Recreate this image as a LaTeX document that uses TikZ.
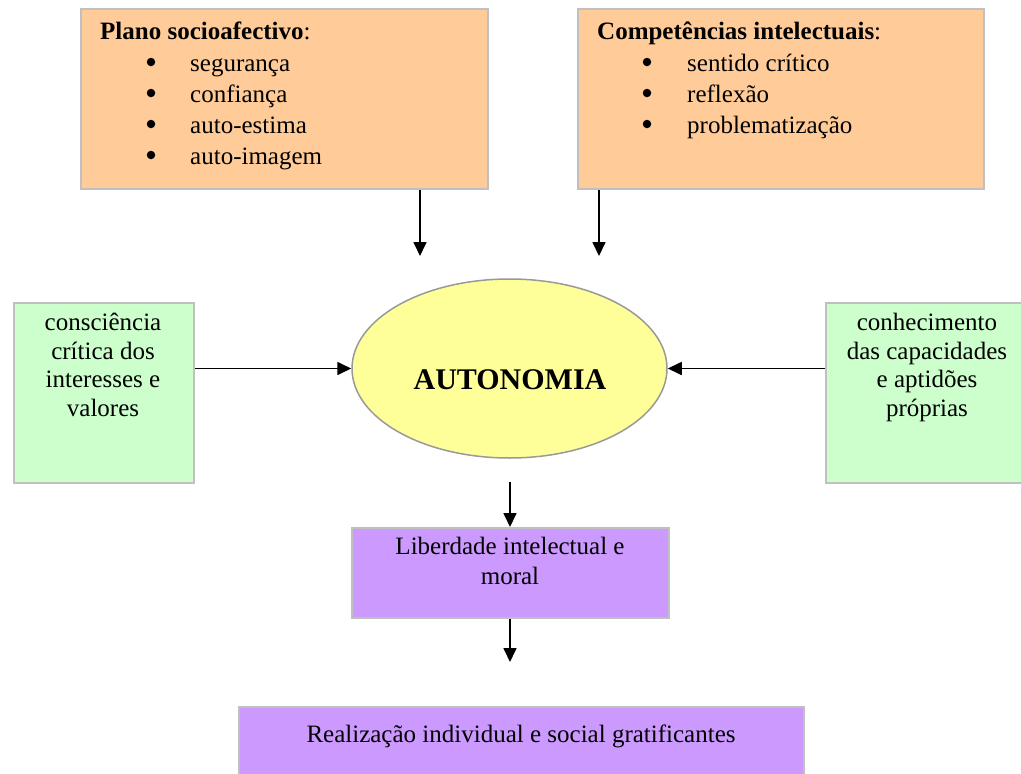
\documentclass[tikz,border=0pt]{standalone}
\usepackage{fontspec}
\setmainfont{Liberation Serif}
\usetikzlibrary{arrows.meta,shapes.geometric}
\definecolor{orangefill}{HTML}{FFCC99}
\definecolor{greenfill}{HTML}{CCFFCC}
\definecolor{yellowfill}{HTML}{FFFF99}
\definecolor{purplefill}{HTML}{CC99FF}
\definecolor{boxborder}{HTML}{C0C0C0}
\definecolor{ellborder}{HTML}{999999}
\tikzset{
  panel/.style={draw=boxborder, line width=1.8pt, rectangle, inner sep=0pt, anchor=north west},
  txt/.style={inner sep=0pt, font=\fontsize{25}{31}\selectfont},
  btxt/.style={inner sep=0pt, font=\fontsize{25}{31}\selectfont\bfseries},
  ctxt/.style={inner sep=0pt, font=\fontsize{25}{28.5}\selectfont, align=center},
  dot/.style={circle, fill=black, inner sep=0pt, minimum size=8.5pt},
  arr/.style={line width=1.7pt, -{Triangle[length=14pt,width=13pt]}},
}
\begin{document}
\begin{tikzpicture}[x=1pt,y=-1pt]
\clip (0,0) rectangle (1021,774);
\useasboundingbox (0,0) rectangle (1021,774);
\fill[white] (0,0) rectangle (1021,774);

% top boxes
\node[panel, fill=orangefill, minimum width=407pt, minimum height=180pt] (tl) at (80,8) {};
\node[panel, fill=orangefill, minimum width=406pt, minimum height=180pt] (tr) at (577,8) {};

\node[btxt, anchor=base west] (tlt) at (100,39) {Plano socioafectivo\textmd{:}};
\node[dot] (tlb1) at (151,62) {};
\node[dot] (tlb2) at (151,93) {};
\node[dot] (tlb3) at (151,124) {};
\node[dot] (tlb4) at (151,155) {};
\node[txt, anchor=base west] (tl1) at (190,71) {segurança};
\node[txt, anchor=base west] (tl2) at (190,102) {confiança};
\node[txt, anchor=base west] (tl3) at (190,133) {auto-estima};
\node[txt, anchor=base west] (tl4) at (190,164) {auto-imagem};

\node[btxt, anchor=base west] (trt) at (597,39) {Competências intelectuais\textmd{:}};
\node[dot] (trb1) at (647,62) {};
\node[dot] (trb2) at (647,93) {};
\node[dot] (trb3) at (647,124) {};
\node[txt, anchor=base west] (tr1) at (687,71) {sentido crítico};
\node[txt, anchor=base west] (tr2) at (687,102) {reflexão};
\node[txt, anchor=base west] (tr3) at (687,133) {problematização};

% side boxes
\node[panel, fill=greenfill, minimum width=180pt, minimum height=180pt] (lg) at (13,302) {};
\node[panel, fill=greenfill, minimum width=200pt, minimum height=180pt] (rg) at (825,302) {};
\node[ctxt, anchor=north] (lgt) at (103,313) {consciência\\crítica dos\\interesses e\\valores};
\node[ctxt, anchor=north] (rgt) at (927,313) {conhecimento\\das capacidades\\e aptidões\\próprias};

% ellipse
\node[ellipse, draw=ellborder, line width=1.5pt, fill=yellowfill, minimum width=315pt, minimum height=179pt, inner sep=0pt] (auto) at (509.5,368.5) {};
\node[inner sep=0pt, font=\fontsize{30}{34}\selectfont\bfseries] (autot) at (510,380) {AUTONOMIA};

% lower boxes
\node[panel, fill=purplefill, minimum width=317pt, minimum height=90pt] (lib) at (351,527) {};
\node[ctxt, anchor=north, font=\fontsize{25}{29.5}\selectfont] (libt) at (510,537) {Liberdade intelectual e\\moral};
\node[panel, fill=purplefill, minimum width=565pt, minimum height=80pt] (real) at (238,706) {};
\node[txt, anchor=base] (realt) at (521,742) {Realização individual e social gratificantes};

% free arrow ends
\coordinate (e1) at (420,256);
\coordinate (e2) at (599,256);
\coordinate (s3) at (510,482);
\coordinate (e4) at (510,662);

% connectors
\draw[arr] (e1 |- tl.south) -- (e1);
\draw[arr] (e2 |- tr.south) -- (e2);
\draw[arr] (lg.east |- auto.west) -- (auto.west);
\draw[arr] (rg.west |- auto.east) -- (auto.east);
\draw[arr] (s3) -- (s3 |- lib.north);
\draw[arr] (e4 |- lib.south) -- (e4);
\end{tikzpicture}
\end{document}
